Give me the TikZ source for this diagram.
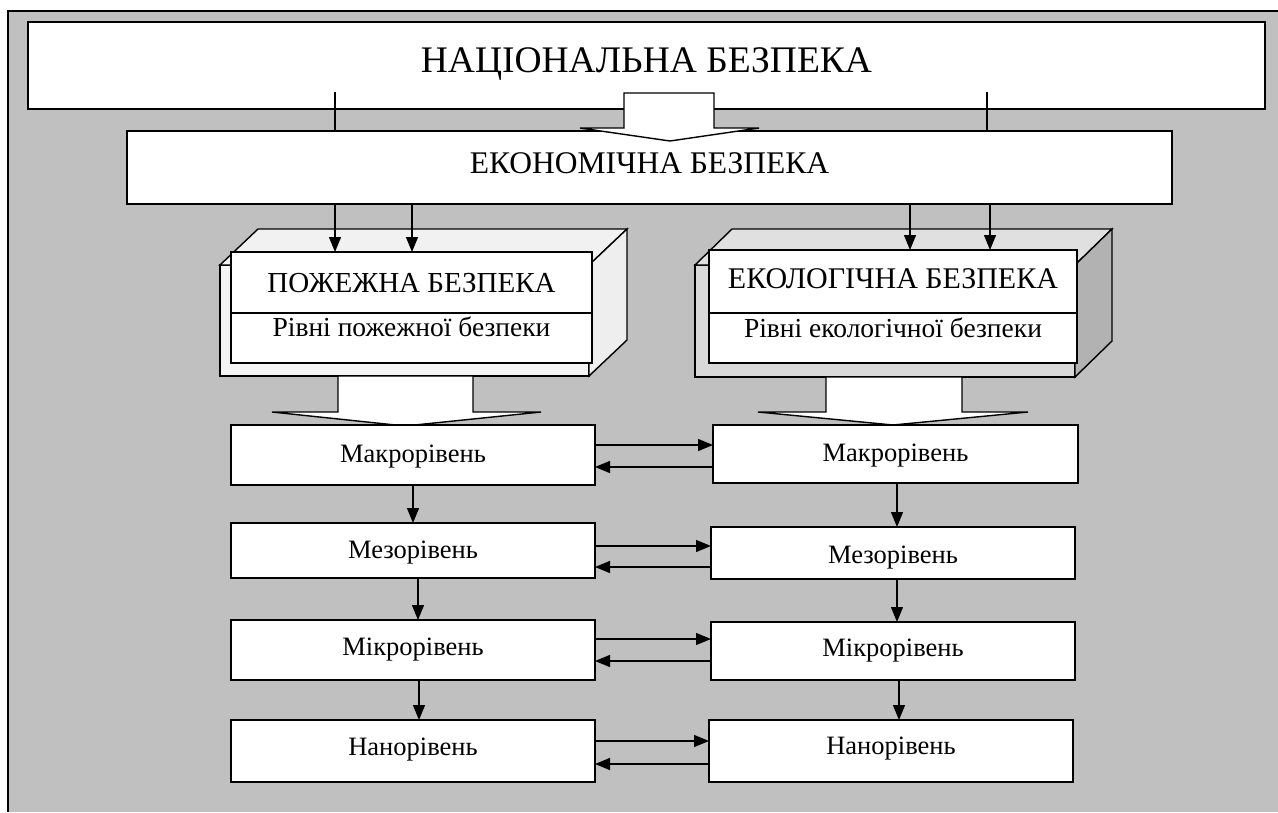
\documentclass[tikz,border=0pt]{standalone}
\usepackage{fontspec}
\setmainfont{Liberation Serif}
\usetikzlibrary{arrows.meta}
\definecolor{bgray}{gray}{0.753}
\definecolor{lfront}{gray}{0.955}
\definecolor{ltop}{gray}{0.945}
\definecolor{lside}{gray}{0.935}
\definecolor{rfront}{gray}{0.85}
\definecolor{rtop}{gray}{0.88}
\definecolor{rside}{gray}{0.70}
\begin{document}
\begin{tikzpicture}[x=1pt,y=-1pt,
  box/.style={draw, line width=1.6pt, fill=white, inner sep=0pt, outer sep=0pt, anchor=north west, align=center},
  tb/.style 2 args={text height=#1pt, text depth=#2pt},
  fnat/.style={font=\fontsize{37.5}{41}\selectfont},
  feco/.style={font=\fontsize{31.5}{34}\selectfont},
  fsec/.style={font=\fontsize{29}{32}\selectfont},
  fsecb/.style={font=\fontsize{30}{33}\selectfont},
  fsub/.style={font=\fontsize{27.5}{30}\selectfont},
  flev/.style={font=\fontsize{26.5}{29}\selectfont},
  arr/.style={line width=1.3pt, -{Triangle[length=15pt,width=12pt]}},
  ln/.style={line width=1.3pt},
  face/.style={draw, line width=1.4pt, line join=miter},
  barrow/.style={draw, fill=white, line width=1.4pt, line join=miter}]
\useasboundingbox (0,0) rectangle (1278,812);
\fill[white] (0,0) rectangle (1278,812);
% frame
\fill[bgray] (8,11) rectangle (1278,812);
\draw[line width=1.8pt] (8,812) -- (8,11) -- (1278,11);

% national and economic boxes
\node[box, minimum width=1237pt, minimum height=87pt, fnat, tb={27}{14}] (nat) at (28,22) {НАЦІОНАЛЬНА БЕЗПЕКА};
\node[box, minimum width=1045pt, minimum height=73pt, feco, tb={21}{10}] (eco) at (127,131) {ЕКОНОМІЧНА БЕЗПЕКА};

% block arrow national -> economic
\draw[barrow] (624,93) -- (714,93) -- (714,128) -- (759,128) -- (670,141) -- (580,128) -- (624,128) -- cycle;
% thin lines national -> economic
\draw[ln] (nat.south -| 335,0) ++(0,-17) -- (eco.north -| 335,0);
\draw[ln] (nat.south -| 987,0) ++(0,-17) -- (eco.north -| 987,0);

% left 3D box
\draw[face, fill=lfront] (220,265) rectangle (589,376);
\draw[face, fill=ltop] (220,265) -- (258,229) -- (627,229) -- (589,265) -- cycle;
\draw[face, fill=lside] (589,265) -- (627,229) -- (627,340) -- (589,376) -- cycle;
\node[box, minimum width=361pt, minimum height=61pt, fsec, tb={20}{1}] (fire) at (231,252) {ПОЖЕЖНА БЕЗПЕКА};
\node[box, minimum width=361pt, minimum height=50pt, fsub, tb={18}{22}] (firelev) at (231,313) {Рівні пожежної безпеки};

% right 3D box
\draw[face, fill=rfront] (695,265) rectangle (1075,377);
\draw[face, fill=rtop] (695,265) -- (732,229) -- (1112,229) -- (1075,265) -- cycle;
\draw[face, fill=rside] (1075,265) -- (1112,229) -- (1112,341) -- (1075,377) -- cycle;
\node[box, minimum width=368pt, minimum height=63pt, fsecb, tb={20}{7}] (eko) at (709,250) {ЕКОЛОГІЧНА БЕЗПЕКА};
\node[box, minimum width=368pt, minimum height=50pt, fsub, tb={18}{20}] (ekolev) at (709,313) {Рівні екологічної безпеки};

% arrows economic -> fire / ecology
\draw[arr] (eco.south -| 335,0) -- (fire.north -| 335,0);
\draw[arr] (eco.south -| 412,0) -- (fire.north -| 412,0);
\draw[arr] (eco.south -| 910,0) -- (eko.north -| 910,0);
\draw[arr] (eco.south -| 990,0) -- (eko.north -| 990,0);

% block arrows down
\draw[barrow] (338,376) -- (473,376) -- (473,412) -- (541,412) -- (405,426) -- (272,412) -- (338,412) -- cycle;
\draw[barrow] (826,377) -- (962,377) -- (962,412) -- (1028,412) -- (893,425) -- (758,412) -- (826,412) -- cycle;

% level boxes left
\node[box, minimum width=364pt, minimum height=60pt, flev, tb={18}{4}] (lmakro) at (231,425) {Макрорівень};
\node[box, minimum width=364pt, minimum height=55pt, flev, tb={18}{3}] (lmezo) at (231,523) {Мезорівень};
\node[box, minimum width=364pt, minimum height=60pt, flev, tb={18}{8}] (lmikro) at (231,620) {Мікрорівень};
\node[box, minimum width=364pt, minimum height=62pt, flev, tb={18}{10}] (lnano) at (231,720) {Нанорівень};
% level boxes right
\node[box, minimum width=365pt, minimum height=58pt, flev, tb={18}{4}] (rmakro) at (713,425) {Макрорівень};
\node[box, minimum width=364pt, minimum height=52pt, flev, tb={20}{0}] (rmezo) at (711,527) {Мезорівень};
\node[box, minimum width=364pt, minimum height=58pt, flev, tb={18}{8}] (rmikro) at (711,622) {Мікрорівень};
\node[box, minimum width=364pt, minimum height=62pt, flev, tb={18}{12}] (rnano) at (709,720) {Нанорівень};

% vertical arrows left
\draw[arr] (lmakro.south -| 413,0) -- (lmezo.north -| 413,0);
\draw[arr] (lmezo.south -| 418,0) -- (lmikro.north -| 418,0);
\draw[arr] (lmikro.south -| 419,0) -- (lnano.north -| 419,0);
% vertical arrows right
\draw[arr] (rmakro.south -| 897,0) -- (rmezo.north -| 897,0);
\draw[arr] (rmezo.south -| 897,0) -- (rmikro.north -| 897,0);
\draw[arr] (rmikro.south -| 899,0) -- (rnano.north -| 899,0);

% horizontal arrows
\draw[arr] (lmakro.east |- 0,445) -- (rmakro.west |- 0,445);
\draw[arr] (rmakro.west |- 0,467) -- (lmakro.east |- 0,467);
\draw[arr] (lmezo.east |- 0,546) -- (rmezo.west |- 0,546);
\draw[arr] (rmezo.west |- 0,567) -- (lmezo.east |- 0,567);
\draw[arr] (lmikro.east |- 0,639) -- (rmikro.west |- 0,639);
\draw[arr] (rmikro.west |- 0,661) -- (lmikro.east |- 0,661);
\draw[arr] (lnano.east |- 0,741) -- (rnano.west |- 0,741);
\draw[arr] (rnano.west |- 0,764) -- (lnano.east |- 0,764);
\end{tikzpicture}
\end{document}
